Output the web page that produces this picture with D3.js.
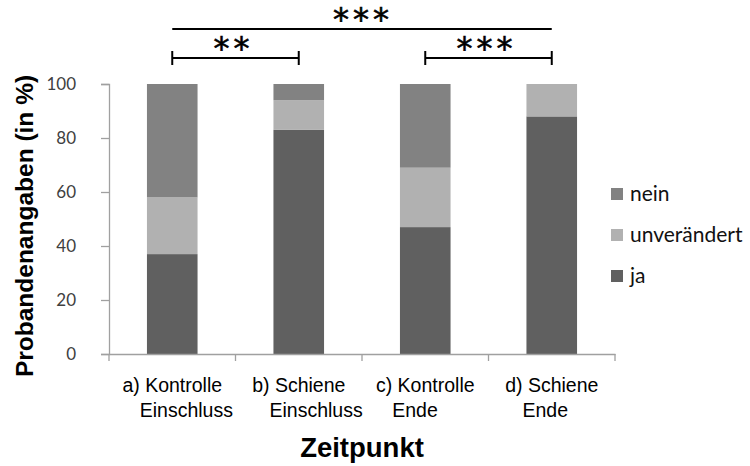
<!DOCTYPE html>
<html>
<head>
<meta charset="utf-8">
<script src="https://cdn.jsdelivr.net/npm/d3@7"></script>
<style>
  body { margin: 0; background: #fff; }
</style>
</head>
<body>
<svg id="chart" width="750" height="466" font-family="Arial, 'Liberation Sans', sans-serif"></svg>
<script>
// data
let categories = ["a) Kontrolle|Einschluss", "b) Schiene|Einschluss", "c) Kontrolle|Ende", "d) Schiene|Ende"]
let ja = [37, 83, 47, 88]
let unveraendert = [21, 11, 22, 12]
let nein = [42, 6, 31, 0]
let seriesNames = ["ja", "unverändert", "nein"]
let yTicks = [0, 20, 40, 60, 80, 100]
// significance brackets: [from index, to index, stars, level]
let sigs = [[0, 3, "***", 0], [0, 1, "**", 1], [2, 3, "***", 1]]

let colors = { "ja": "#606060", "unverändert": "#b1b1b1", "nein": "#828282" }

let svg = d3.select("#chart")
let pLeft = 109, pRight = 615, pTop = 84, pBottom = 354

let x = d3.scaleBand().domain(d3.range(categories.length)).range([pLeft, pRight])
let y = d3.scaleLinear().domain([0, 100]).range([pBottom, pTop])
let barW = x.bandwidth() * 0.4

let table = categories.map((c, i) => ({ i: i, "ja": ja[i], "unverändert": unveraendert[i], "nein": nein[i] }))
let stacked = d3.stack().keys(seriesNames)(table)

svg.selectAll("g.series")
  .data(stacked)
  .join("g")
  .attr("class", "series")
  .attr("fill", d => colors[d.key])
  .selectAll("rect")
  .data(d => d)
  .join("rect")
  .attr("x", d => x(d.data.i) + x.bandwidth() / 2 - barW / 2)
  .attr("width", barW)
  .attr("y", d => y(d[1]))
  .attr("height", d => y(d[0]) - y(d[1]))

// y axis
let yAxis = svg.append("g")
  .attr("transform", `translate(${pLeft},0)`)
  .call(d3.axisLeft(y).tickValues(yTicks).tickSize(8).tickPadding(25))
yAxis.attr("font-family", "Lato, 'Open Sans', sans-serif").attr("font-size", 17)
yAxis.select(".domain").attr("stroke", "#a0a0a0").attr("stroke-width", 1.3)
yAxis.selectAll(".tick line").attr("stroke", "#a0a0a0").attr("stroke-width", 1.3)
yAxis.selectAll(".tick text").attr("fill", "#404040")

// x axis
let xAxis = svg.append("g")
  .attr("transform", `translate(0,${pBottom})`)
  .call(d3.axisBottom(x).tickSize(0).tickFormat(""))
xAxis.select(".domain").attr("stroke", "#a0a0a0").attr("stroke-width", 1.3)
xAxis.selectAll(".tick").remove()
svg.append("g").selectAll("line")
  .data(d3.range(categories.length + 1))
  .join("line")
  .attr("x1", d => pLeft + d * x.step()).attr("x2", d => pLeft + d * x.step())
  .attr("y1", pBottom).attr("y2", pBottom + 7)
  .attr("stroke", "#a0a0a0").attr("stroke-width", 1.3)

// category labels (second line hangs under the word after the prefix)
categories.forEach((c, i) => {
  let parts = c.split("|")
  let g = svg.append("g").attr("font-size", 19.5)
  let t1 = g.append("text").attr("fill", "#000")
    .attr("y", pBottom + 38).text(parts[0])
  let w1 = t1.node().getComputedTextLength()
  let x0 = x(i) + x.bandwidth() / 2 - w1 / 2
  t1.attr("x", x0)
  let pre = g.append("text").text(parts[0].split(" ")[0] + " ")
  let pw = pre.node().getComputedTextLength()
  pre.remove()
  g.append("text").attr("x", x0 + pw).attr("y", pBottom + 63).text(parts[1])
})

// axis titles
svg.append("text")
  .attr("transform", `translate(33,226) rotate(-90)`)
  .attr("text-anchor", "middle")
  .attr("font-weight", "bold").attr("font-size", 24.5)
  .text("Probandenangaben (in %)")

svg.append("text")
  .attr("x", 362).attr("y", 457)
  .attr("text-anchor", "middle")
  .attr("font-weight", "bold").attr("font-size", 27.5)
  .text("Zeitpunkt")

// legend
let legendY = d3.scalePoint().domain(["nein", "unverändert", "ja"]).range([194, 276])
let leg = svg.append("g").selectAll("g")
  .data(["nein", "unverändert", "ja"])
  .join("g")
  .attr("transform", d => `translate(611,${legendY(d)})`)
leg.append("rect").attr("x", 0).attr("y", -6).attr("width", 12).attr("height", 12)
  .attr("fill", d => colors[d])
leg.append("text").attr("x", 19).attr("y", 7)
  .attr("font-family", "Lato, 'Open Sans', sans-serif")
  .attr("font-size", 21).attr("fill", "#111")
  .text(d => d)

// significance brackets
let levelY = [29, 58]
let cx = i => x(i) + x.bandwidth() / 2
let sg = svg.append("g").selectAll("g").data(sigs).join("g")
sg.append("line")
  .attr("x1", d => cx(d[0])).attr("x2", d => cx(d[1]))
  .attr("y1", d => levelY[d[3]]).attr("y2", d => levelY[d[3]])
  .attr("stroke", "#000").attr("stroke-width", 2)
sg.filter(d => d[3] === 1).selectAll("line.cap")
  .data(d => [d[0], d[1]].map(k => ({ k: k, lv: d[3] })))
  .join("line").attr("class", "cap")
  .attr("x1", d => cx(d.k)).attr("x2", d => cx(d.k))
  .attr("y1", d => levelY[d.lv] - 7).attr("y2", d => levelY[d.lv] + 7)
  .attr("stroke", "#000").attr("stroke-width", 2)
sg.append("text")
  .attr("x", d => (cx(d[0]) + cx(d[1])) / 2 - (d[3] === 1 ? 2 : -1))
  .attr("y", d => levelY[d[3]] + 1)
  .attr("text-anchor", "middle")
  .attr("font-family", "'DejaVu Sans', sans-serif")
  .attr("font-size", 32).attr("letter-spacing", 4)
  .attr("stroke", "#000").attr("stroke-width", 0.6)
  .text(d => d[2])
</script>
</body>
</html>
